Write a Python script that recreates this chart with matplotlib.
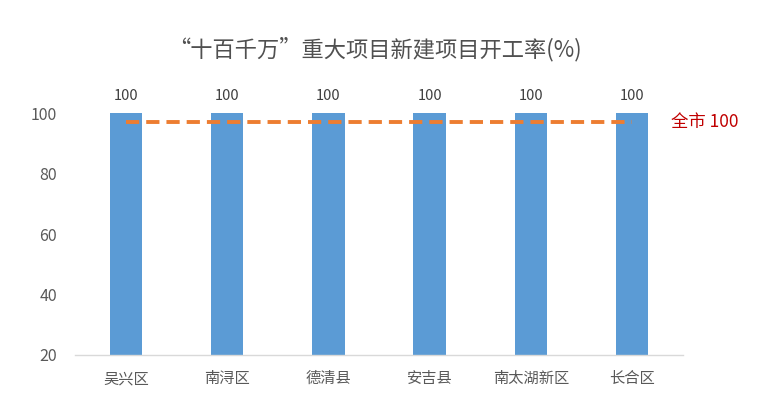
#!/usr/bin/env python3
import matplotlib
matplotlib.use('Agg')
import matplotlib.pyplot as plt
import numpy as np

plt.rcParams['font.family'] = ['Noto Sans CJK SC', 'DejaVu Sans']

# data
districts = ['吴兴区', '南浔区', '德清县', '安吉县', '南太湖新区', '长合区']
start_rate = [100, 100, 100, 100, 100, 100]
city_line = [97, 97, 97, 97, 97, 97]
city_label = '全市 100'
title = '“十百千万”重大项目新建项目开工率(%)'
y_ticks = [20, 40, 60, 80, 100]

fig = plt.figure(figsize=(7.68, 3.97), dpi=100)
ax = fig.add_axes([0.098, 0.106, 0.791, 0.609])

x = np.arange(len(districts))
bars = ax.bar(x, start_rate, width=0.32, color='#5B9BD5', zorder=2)
ax.plot(x, city_line, color='#ED7D31', linewidth=2.8, linestyle=(0, (3.4, 1.8)), zorder=3)

for xi, v in zip(x, start_rate):
    ax.text(xi, v + 3.2, f'{v}', ha='center', va='bottom', fontsize=10.5, color='#404040')

ax.text(len(districts) - 0.62, city_line[-1], city_label, ha='left', va='center',
        fontsize=12.5, color='#C00000', clip_on=False)

ax.set_xlim(-0.5, len(districts) - 0.5)
ax.set_ylim(20, 100)
ax.set_yticks(y_ticks)
ax.set_xticks(x)
ax.set_xticklabels(districts, fontsize=11, color='#595959')
ax.tick_params(axis='y', labelsize=11.5, labelcolor='#595959', length=0, pad=13)
ax.tick_params(axis='x', length=0, pad=11)

for side in ['top', 'right', 'left']:
    ax.spines[side].set_visible(False)
ax.spines['bottom'].set_color('#D9D9D9')
ax.spines['bottom'].set_linewidth(1)

fig.text(0.488, 0.875, title, ha='center', va='center', fontsize=16, color='#505050',
         fontweight='light')

fig.savefig('out.png', dpi=100)
plt.close(fig)
